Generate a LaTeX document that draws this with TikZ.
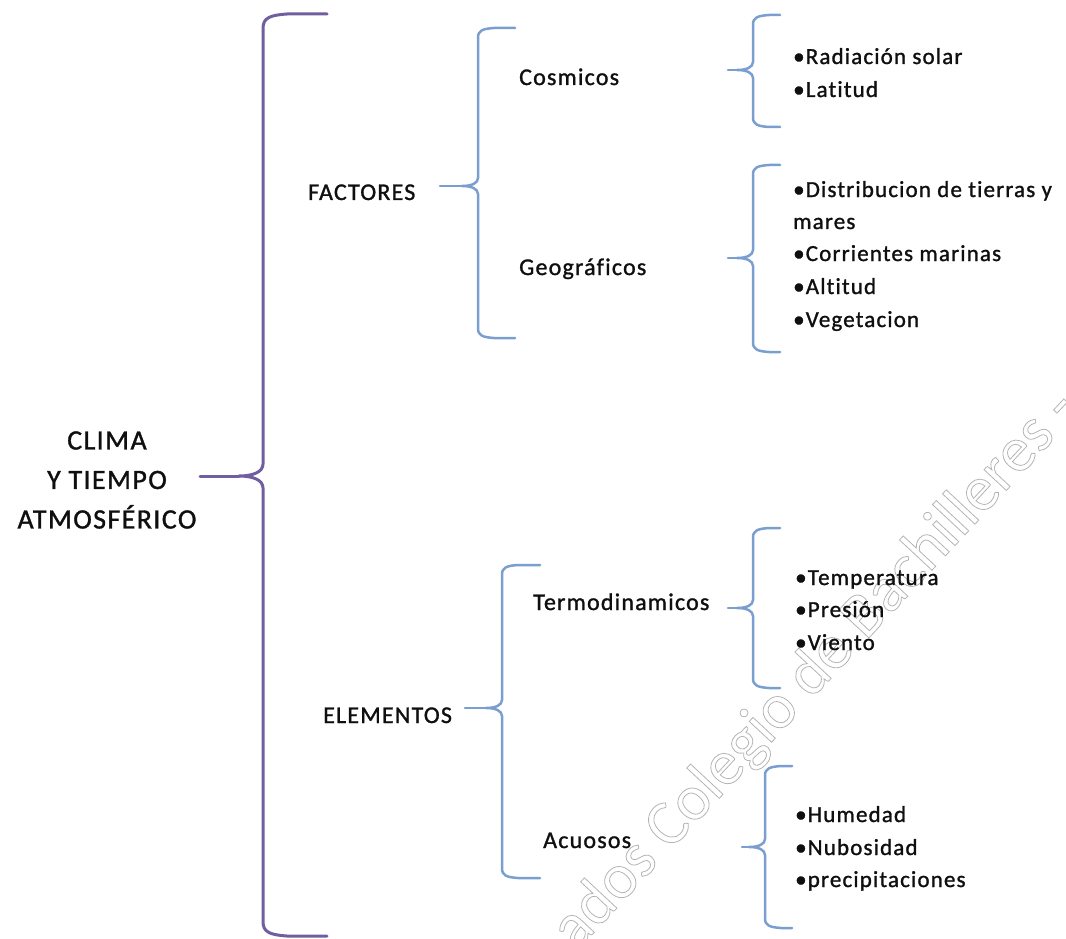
\documentclass[tikz,border=0pt]{standalone}
\usepackage{fontspec}
\setmainfont{Carlito}[LetterSpace=5,FakeBold=1.2,Ligatures=NoCommon]
\newfontfamily\stampfont{Carlito}
\definecolor{ink}{RGB}{15,15,15}
\definecolor{plum}{RGB}{112,94,160}
\definecolor{sky}{RGB}{122,158,208}
\definecolor{mark}{RGB}{180,180,180}

% curly bracket: #1 style, #2 x of the stem, #3 top y, #4 bottom y,
% #5 y of the point, #6 x of the arm ends, #7 x of the point, #8 corner size
\newcommand\bracketpath[8]{%
  \draw[#1] (#6,#3) -- ({#2+2*#8},#3)
    .. controls ({#2+0.6*#8},{#3+0.1*#8}) and (#2,{#3+0.3*#8}) .. (#2,{#3+1.2*#8})
    -- (#2,{#5-#8})
    .. controls (#2,{#5-0.35*#8}) and ({#2-0.8*#8},#5) .. ({#2-2*#8},#5)
    .. controls ({#2-0.8*#8},#5) and (#2,{#5+0.35*#8}) .. (#2,{#5+#8})
    -- (#2,{#4-1.2*#8})
    .. controls (#2,{#4-0.3*#8}) and ({#2+0.6*#8},{#4-0.1*#8}) .. ({#2+2*#8},#4)
    -- (#6,#4);
  \draw[#1] ({#2-2*#8},#5) -- (#7,#5);}

\begin{document}
\begin{tikzpicture}[x=1pt,y=-1pt,
  mainbr/.style={draw=plum,line width=3pt,line cap=round,line join=round},
  subbr/.style={draw=sky,line width=2.5pt,line cap=round,line join=round},
  root/.style={text=ink,inner sep=0pt,align=center,font=\fontsize{28}{39.5}\selectfont},
  branch/.style={text=ink,inner sep=0pt,anchor=base west,font=\fontsize{24}{28}\selectfont},
  item/.style={text=ink,inner sep=0pt,anchor=base west,font=\fontsize{23}{28}\selectfont},
  stamp/.style={text=mark,inner sep=0pt,anchor=base west,rotate=47,font=\stampfont\fontsize{64}{70}\selectfont}]

\path[use as bounding box] (0,0) rectangle (1066,939);

% outlined watermark along the diagonal
\begin{scope}
  \clip (0,0) rectangle (1066,939);
  \node[stamp] (wm) at (576,952)
    {\special{pdf:literal direct 1 Tr 0.8 w}ados Colegio de Bachilleres -\special{pdf:literal direct 0 Tr}};
\end{scope}

% root
\node[root] (clima) at (107,480) {CLIMA\\Y TIEMPO\\ATMOSFÉRICO};
\bracketpath{mainbr}{263}{14}{936}{476}{327}{200}{12}

% factors
\node[branch] (fac) at (308,200) {FACTORES};
\bracketpath{subbr}{478}{28}{338}{186}{515}{440}{8}
\node[branch] (cos) at (519,85) {Cosmicos};
\node[branch] (geo) at (519,275) {Geográficos};

\bracketpath{subbr}{753}{15}{127}{70}{780}{728}{8}
\node[item] (c1) at (793,64) {•Radiación solar};
\node[item] (c2) at (793,97) {•Latitud};

\bracketpath{subbr}{753}{165}{352}{258}{780}{728}{8}
\node[item] (g1) at (793,197) {•Distribucion de tierras y};
\node[item] (g1b) at (793,229) {mares};
\node[item] (g2) at (793,261) {•Corrientes marinas};
\node[item] (g3) at (793,294) {•Altitud};
\node[item] (g4) at (793,327) {•Vegetacion};

% elements
\node[branch] (ele) at (323,723) {ELEMENTOS};
\bracketpath{subbr}{502}{565}{878}{708}{540}{465}{8}
\node[branch] (ter) at (533,610) {Termodinamicos};
\node[branch] (acu) at (543,848) {Acuosos};

\bracketpath{subbr}{753}{528}{688}{608}{780}{728}{8}
\node[item] (t1) at (795,585) {•Temperatura};
\node[item] (t2) at (795,617) {•Presión};
\node[item] (t3) at (795,650) {•Viento};

\bracketpath{subbr}{765}{766}{928}{847}{792}{742}{8}
\node[item] (a1) at (795,822) {•Humedad};
\node[item] (a2) at (795,855) {•Nubosidad};
\node[item] (a3) at (795,887) {•precipitaciones};
\end{tikzpicture}
\end{document}
